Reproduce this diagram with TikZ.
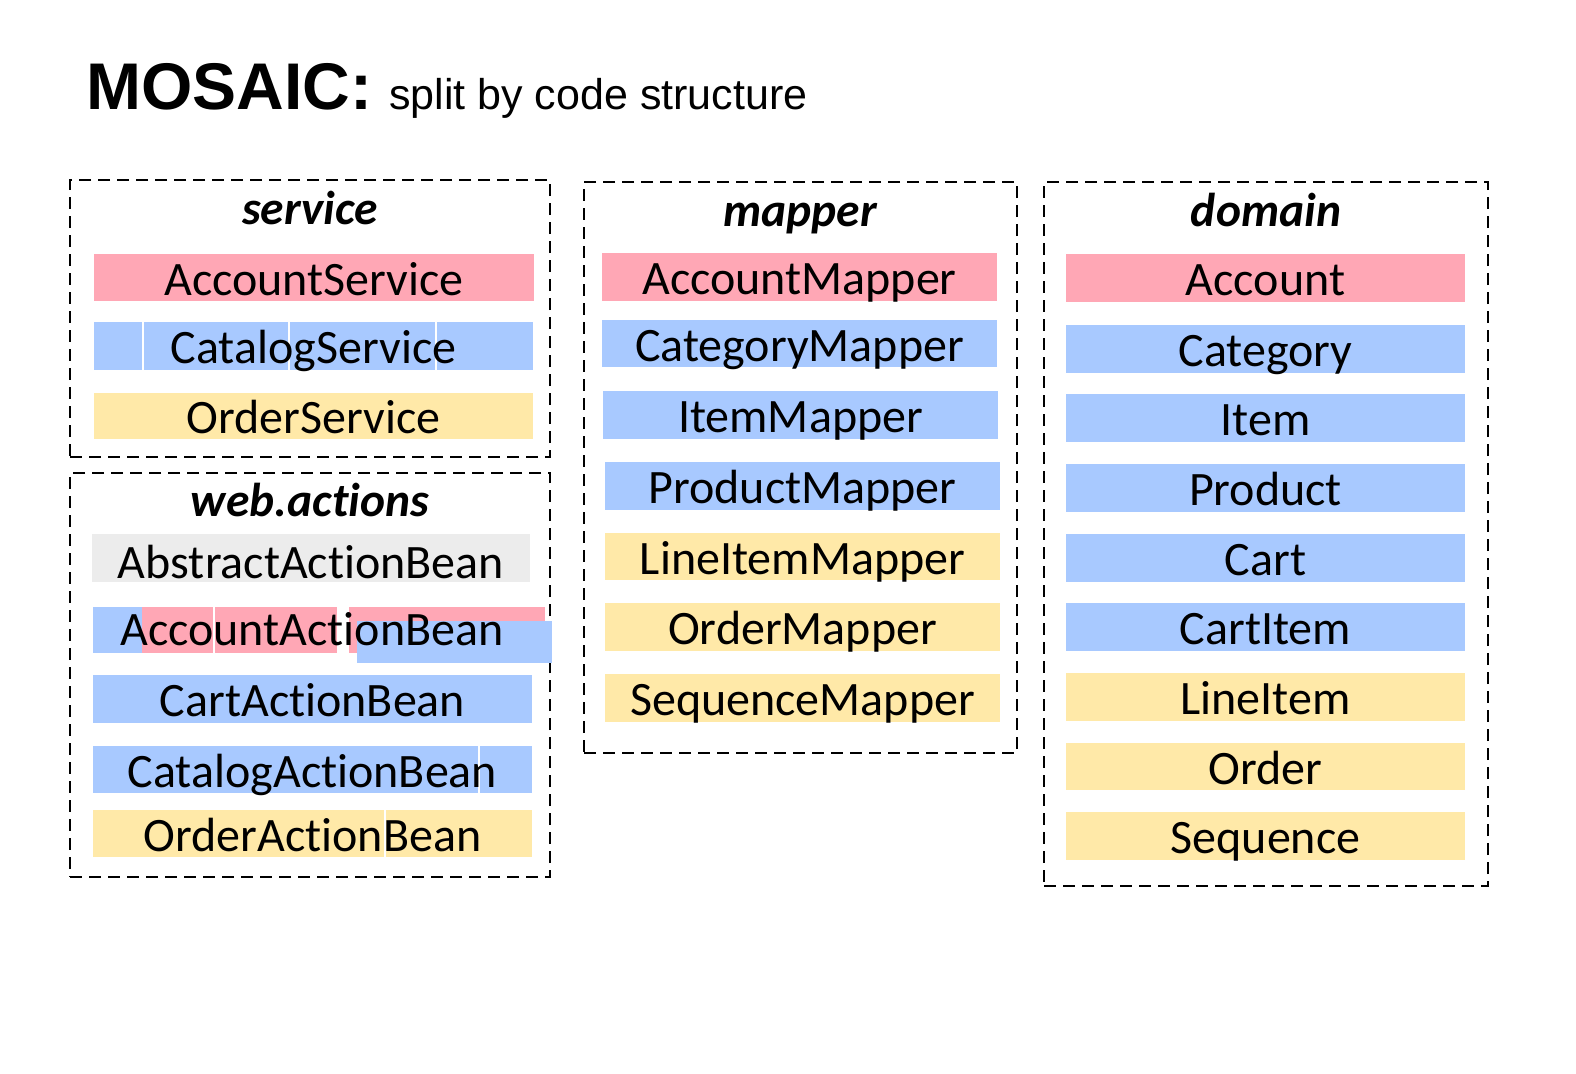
\documentclass[tikz,border=0pt]{standalone}
\usepackage{fontspec}
\setmainfont{Carlito}[Ligatures=NoCommon]
\newfontfamily\arialfont{Liberation Sans}
\definecolor{pk}{HTML}{FFA7B5}
\definecolor{bl}{HTML}{A8C9FF}
\definecolor{yl}{HTML}{FFE9A8}
\definecolor{gy}{HTML}{ECECEC}
\newcommand\mybar[8][]{\node[bar, fill=#6, minimum width={#4pt-#2pt}, minimum height={#5pt-#3pt}] (#2x#3) at ({(#2+#4)/2},{(#3+#5)/2}) {};
  \node[bar, #1] (#7) at (#2x#3.center) {#8};}
\newcommand\mypkg[5]{\node[pkg, minimum width={#4pt-#2pt}, minimum height={#5pt-#3pt}] (#1) at ({(#2+#4)/2},{(#3+#5)/2}) {};}
\begin{document}
\begin{tikzpicture}[x=1pt,y=-1pt,
  pkg/.style={draw=black, line width=2pt, dash pattern=on 12pt off 7pt, inner sep=0pt, outer sep=0pt},
  bar/.style={inner sep=0pt, outer sep=0pt, text height=35pt, text depth=0pt, font=\fontsize{48}{58}\selectfont},
  ttl/.style={anchor=base, inner sep=0pt, font=\fontsize{47.5}{57}\selectfont\bfseries\itshape},
  seam/.style={white, line width=1.2pt}]
\fill[white] (0,0) rectangle (1576,1073);
\useasboundingbox (0,0) rectangle (1576,1073);

% heading
\node[anchor=base west, inner sep=0pt, font=\arialfont\bfseries\fontsize{66}{78}\selectfont] (head) at (86,109) {MOSAIC:};
\node[anchor=base west, inner sep=0pt, font=\arialfont\fontsize{43}{52}\selectfont] (sub) at (389,109) {split by code structure};

% packages
\mypkg{svc}{70}{180}{550}{457}
\mypkg{web}{70}{473}{550}{877}
\mypkg{map}{584}{182}{1017}{753}
\mypkg{dom}{1044}{182}{1488}{886}

\node[ttl] (svcT) at (310,224) {service};
\node[ttl] (webT) at (310,516) {web.actions};
\node[ttl] (mapT) at (800,226) {mapper};
\node[ttl] (domT) at (1266,226) {domain};

% service
\mybar{94}{254}{534}{301}{pk}{s1}{AccountService}
\node[bar, fill=bl, minimum width=439pt, minimum height=48pt] (s2bg) at (313.5,346) {};
\draw[seam] (143,322) -- (143,370);
\draw[seam] (289,322) -- (289,370);
\draw[seam] (436,322) -- (436,370);
\node[bar] (s2) at (s2bg.center) {CatalogService};
\mybar{94}{393}{533}{439}{yl}{s3}{OrderService}

% web.actions
\mybar[yshift=-3pt]{92}{534}{530}{582}{gy}{w1}{AbstractActionBean}
\fill[bl] (93,607) rectangle (142,653);
\fill[pk] (142,607) rectangle (337,653);
\draw[seam] (214,607) -- (214,653);
\fill[pk] (349,607) rectangle (545,653);
\fill[bl] (357,621) rectangle (552,663);
\node[anchor=base, inner sep=0pt, font=\fontsize{48}{58}\selectfont] (w2) at (312,645) {AccountActionBean};
\mybar{93}{675}{532}{723}{bl}{w3}{CartActionBean}
\node[bar, fill=bl, minimum width=439pt, minimum height=47pt] (w4bg) at (312.5,769.5) {};
\draw[seam] (479,746) -- (479,793);
\node[bar] (w4) at (w4bg.center) {CatalogActionBean};
\node[bar, fill=yl, minimum width=439pt, minimum height=47pt] (w5bg) at (312.5,833.5) {};
\draw[seam] (385,810) -- (385,857);
\node[bar] (w5) at (w5bg.center) {OrderActionBean};

% mapper
\mybar{602}{253}{997}{301}{pk}{m1}{AccountMapper}
\mybar{602}{320}{997}{367}{bl}{m2}{CategoryMapper}
\mybar{603}{391}{998}{439}{bl}{m3}{ItemMapper}
\mybar{605}{462}{1000}{510}{bl}{m4}{ProductMapper}
\mybar{605}{533}{1000}{580}{yl}{m5}{LineItemMapper}
\mybar{605}{603}{1000}{651}{yl}{m6}{OrderMapper}
\mybar{605}{674}{1000}{722}{yl}{m7}{SequenceMapper}

% domain
\mybar{1066}{254}{1465}{302}{pk}{d1}{Account}
\mybar{1066}{325}{1465}{373}{bl}{d2}{Category}
\mybar{1066}{394}{1465}{442}{bl}{d3}{Item}
\mybar{1066}{464}{1465}{512}{bl}{d4}{Product}
\mybar{1066}{534}{1465}{582}{bl}{d5}{Cart}
\mybar{1066}{603}{1465}{651}{bl}{d6}{CartItem}
\mybar{1066}{673}{1465}{721}{yl}{d7}{LineItem}
\mybar{1066}{743}{1465}{790}{yl}{d8}{Order}
\mybar{1066}{812}{1465}{860}{yl}{d9}{Sequence}
\end{tikzpicture}
\end{document}
